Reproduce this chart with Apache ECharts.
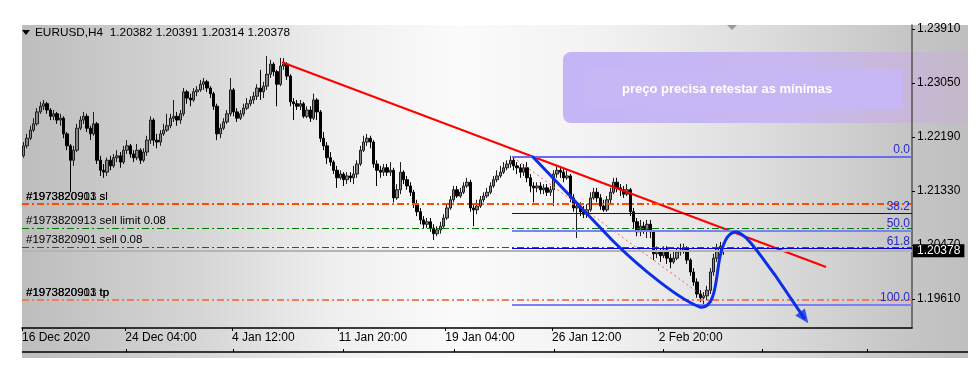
<!DOCTYPE html>
<html><head><meta charset="utf-8">
<script src="https://cdn.jsdelivr.net/npm/echarts@6/dist/echarts.min.js"></script>
<style>html,body{margin:0;padding:0;background:#fff}#c{width:980px;height:373px}</style>
</head><body><div id="c"></div>
<script>
// ---------------- data ----------------
const symbolName = 'EURUSD,H4';
const lastQuote = ['1.20382', '1.20391', '1.20314', '1.20378'];
const lastPrice = 1.20378;
const totalSlots = 267;

const open = [
1.2189,1.2205,1.2217,1.2230,1.2240,1.2259,1.2268,1.2272,1.2262,1.2252,
1.2256,1.2246,1.2249,1.2224,1.2205,1.2182,1.2198,1.2233,1.2246,1.2252,
1.2233,1.2224,1.2240,1.2182,1.2166,1.2163,1.2182,1.2173,1.2186,1.2189,
1.2179,1.2198,1.2205,1.2192,1.2186,1.2198,1.2182,1.2195,1.2214,1.2246,
1.2214,1.2211,1.2224,1.2230,1.2237,1.2249,1.2252,1.2246,1.2256,1.2291,
1.2281,1.2278,1.2291,1.2294,1.2303,1.2307,1.2297,1.2288,1.2268,1.2224,
1.2233,1.2243,1.2256,1.2294,1.2259,1.2249,1.2256,1.2265,1.2272,1.2278,
1.2284,1.2297,1.2291,1.2300,1.2319,1.2335,1.2323,1.2303,1.2332,1.2335,
1.2316,1.2275,1.2272,1.2268,1.2272,1.2252,1.2262,1.2249,1.2278,1.2259,
1.2217,1.2205,1.2186,1.2179,1.2166,1.2154,1.2160,1.2151,1.2157,1.2154,
1.2160,1.2176,1.2198,1.2211,1.2217,1.2211,1.2176,1.2166,1.2163,1.2170,
1.2163,1.2166,1.2122,1.2135,1.2163,1.2151,1.2141,1.2131,1.2112,1.2100,
1.2087,1.2080,1.2084,1.2074,1.2065,1.2071,1.2077,1.2090,1.2106,1.2119,
1.2135,1.2125,1.2131,1.2141,1.2147,1.2106,1.2103,1.2109,1.2119,1.2125,
1.2131,1.2141,1.2151,1.2157,1.2163,1.2170,1.2176,1.2182,1.2173,1.2170,
1.2163,1.2170,1.2154,1.2141,1.2138,1.2141,1.2135,1.2138,1.2131,1.2135,
1.2160,1.2166,1.2163,1.2154,1.2157,1.2122,1.2106,1.2109,1.2100,1.2096,
1.2103,1.2122,1.2131,1.2122,1.2109,1.2103,1.2119,1.2131,1.2147,1.2138,
1.2135,1.2128,1.2135,1.2100,1.2084,1.2068,1.2077,1.2071,1.2080,1.2068,
1.2033,1.2036,1.2030,1.2039,1.2026,1.2020,1.2026,1.2036,1.2039,1.2042,
1.2023,1.2004,1.1988,1.1969,1.1963,1.1966,1.1975,1.2004,1.2026,1.2042,
1.20382];
const close = [
1.2205,1.2217,1.2230,1.2240,1.2259,1.2268,1.2272,1.2262,1.2252,1.2256,
1.2246,1.2249,1.2224,1.2205,1.2182,1.2198,1.2233,1.2246,1.2252,1.2233,
1.2224,1.2240,1.2182,1.2166,1.2163,1.2182,1.2173,1.2186,1.2189,1.2179,
1.2198,1.2205,1.2192,1.2186,1.2198,1.2182,1.2195,1.2214,1.2246,1.2214,
1.2211,1.2224,1.2230,1.2237,1.2249,1.2252,1.2246,1.2256,1.2291,1.2281,
1.2278,1.2291,1.2294,1.2303,1.2307,1.2297,1.2288,1.2268,1.2224,1.2233,
1.2243,1.2256,1.2294,1.2259,1.2249,1.2256,1.2265,1.2272,1.2278,1.2284,
1.2297,1.2291,1.2300,1.2319,1.2335,1.2323,1.2303,1.2332,1.2335,1.2316,
1.2275,1.2272,1.2268,1.2272,1.2252,1.2262,1.2249,1.2278,1.2259,1.2217,
1.2205,1.2186,1.2179,1.2166,1.2154,1.2160,1.2151,1.2157,1.2154,1.2160,
1.2176,1.2198,1.2211,1.2217,1.2211,1.2176,1.2166,1.2163,1.2170,1.2163,
1.2166,1.2122,1.2135,1.2163,1.2151,1.2141,1.2131,1.2112,1.2100,1.2087,
1.2080,1.2084,1.2074,1.2065,1.2071,1.2077,1.2090,1.2106,1.2119,1.2135,
1.2125,1.2131,1.2141,1.2147,1.2106,1.2103,1.2109,1.2119,1.2125,1.2131,
1.2141,1.2151,1.2157,1.2163,1.2170,1.2176,1.2182,1.2173,1.2170,1.2163,
1.2170,1.2154,1.2141,1.2138,1.2141,1.2135,1.2138,1.2131,1.2135,1.2160,
1.2166,1.2163,1.2154,1.2157,1.2122,1.2106,1.2109,1.2100,1.2096,1.2103,
1.2122,1.2131,1.2122,1.2109,1.2103,1.2119,1.2131,1.2147,1.2138,1.2135,
1.2128,1.2135,1.2100,1.2084,1.2068,1.2077,1.2071,1.2080,1.2068,1.2033,
1.2036,1.2030,1.2039,1.2026,1.2020,1.2026,1.2036,1.2039,1.2042,1.2023,
1.2004,1.1988,1.1969,1.1963,1.1966,1.1975,1.2004,1.2026,1.2042,1.2045,
1.20378];
const low = [
1.2186,1.2201,1.2214,1.2227,1.2237,1.2256,1.2262,1.2256,1.2246,1.2246,
1.2240,1.2237,1.2217,1.2198,1.2131,1.2173,1.2195,1.2230,1.2240,1.2227,
1.2214,1.2221,1.2176,1.2157,1.2154,1.2157,1.2166,1.2170,1.2179,1.2170,
1.2176,1.2192,1.2186,1.2179,1.2182,1.2176,1.2179,1.2189,1.2208,1.2205,
1.2201,1.2205,1.2221,1.2227,1.2233,1.2243,1.2237,1.2240,1.2252,1.2272,
1.2268,1.2275,1.2284,1.2291,1.2294,1.2291,1.2281,1.2262,1.2214,1.2217,
1.2230,1.2240,1.2252,1.2252,1.2243,1.2246,1.2252,1.2262,1.2268,1.2272,
1.2278,1.2278,1.2281,1.2294,1.2313,1.2316,1.2268,1.2300,1.2326,1.2310,
1.2268,1.2246,1.2262,1.2262,1.2249,1.2249,1.2243,1.2246,1.2246,1.2211,
1.2198,1.2176,1.2173,1.2160,1.2138,1.2151,1.2141,1.2144,1.2147,1.2144,
1.2154,1.2173,1.2195,1.2205,1.2201,1.2170,1.2141,1.2154,1.2157,1.2157,
1.2157,1.2115,1.2119,1.2128,1.2144,1.2135,1.2125,1.2106,1.2093,1.2080,
1.2074,1.2074,1.2068,1.2055,1.2061,1.2065,1.2074,1.2087,1.2103,1.2115,
1.2122,1.2122,1.2128,1.2138,1.2100,1.2077,1.2096,1.2106,1.2115,1.2122,
1.2128,1.2138,1.2147,1.2154,1.2160,1.2166,1.2170,1.2166,1.2160,1.2154,
1.2157,1.2147,1.2131,1.2115,1.2131,1.2128,1.2128,1.2125,1.2125,1.2109,
1.2154,1.2154,1.2147,1.2151,1.2115,1.2100,1.2058,1.2093,1.2090,1.2090,
1.2100,1.2119,1.2115,1.2103,1.2100,1.2100,1.2112,1.2128,1.2131,1.2125,
1.2122,1.2125,1.2093,1.2074,1.2061,1.2061,1.2065,1.2058,1.2058,1.2023,
1.2026,1.2020,1.2026,1.2017,1.2010,1.2017,1.2023,1.2030,1.2033,1.2017,
1.1998,1.1982,1.1963,1.1956,1.1953,1.1959,1.1969,1.1998,1.2020,1.2036,
1.20314];
const high = [
1.2211,1.2224,1.2237,1.2249,1.2265,1.2275,1.2278,1.2275,1.2265,1.2262,
1.2259,1.2256,1.2252,1.2227,1.2208,1.2205,1.2240,1.2252,1.2259,1.2256,
1.2237,1.2259,1.2243,1.2189,1.2176,1.2186,1.2189,1.2192,1.2198,1.2195,
1.2205,1.2214,1.2208,1.2198,1.2208,1.2201,1.2201,1.2221,1.2252,1.2249,
1.2224,1.2230,1.2240,1.2256,1.2256,1.2278,1.2259,1.2262,1.2297,1.2294,
1.2288,1.2297,1.2300,1.2310,1.2313,1.2310,1.2300,1.2291,1.2272,1.2240,
1.2249,1.2262,1.2313,1.2297,1.2265,1.2262,1.2272,1.2281,1.2284,1.2291,
1.2303,1.2326,1.2307,1.2348,1.2342,1.2338,1.2326,1.2345,1.2345,1.2338,
1.2319,1.2281,1.2278,1.2278,1.2275,1.2268,1.2268,1.2288,1.2281,1.2262,
1.2227,1.2211,1.2195,1.2182,1.2173,1.2166,1.2163,1.2163,1.2163,1.2173,
1.2182,1.2205,1.2221,1.2224,1.2221,1.2214,1.2182,1.2173,1.2176,1.2176,
1.2179,1.2170,1.2144,1.2179,1.2166,1.2157,1.2147,1.2135,1.2119,1.2106,
1.2093,1.2090,1.2090,1.2080,1.2077,1.2084,1.2096,1.2112,1.2125,1.2141,
1.2141,1.2138,1.2147,1.2154,1.2151,1.2112,1.2119,1.2125,1.2131,1.2138,
1.2147,1.2157,1.2166,1.2173,1.2179,1.2182,1.2189,1.2186,1.2179,1.2176,
1.2176,1.2179,1.2160,1.2147,1.2147,1.2147,1.2144,1.2144,1.2141,1.2166,
1.2173,1.2173,1.2170,1.2166,1.2160,1.2128,1.2115,1.2115,1.2109,1.2112,
1.2131,1.2138,1.2138,1.2128,1.2119,1.2125,1.2138,1.2154,1.2154,1.2144,
1.2141,1.2144,1.2138,1.2106,1.2090,1.2087,1.2084,1.2087,1.2087,1.2071,
1.2045,1.2042,1.2045,1.2045,1.2033,1.2036,1.2042,1.2049,1.2049,1.2045,
1.2026,1.2010,1.1994,1.1975,1.1972,1.1982,1.2010,1.2033,1.2049,1.2052,
1.20391];

const priceTicks = [1.19610, 1.20470, 1.21330, 1.22190, 1.23050, 1.23910];
const timeLabels = ['16 Dec 2020', '24 Dec 04:00', '4 Jan 12:00', '11 Jan 20:00', '19 Jan 04:00', '26 Jan 12:00', '2 Feb 20:00'];
const timeLabelSlots = [0, 31, 63, 95, 127, 159, 191];
const lowerPaneTicks = [31.2, 63.3, 96.3, 129.6, 159.6, 192.3, 222, 253.5];

const orderNames = ['#1973820901 sl', '#1973820913 sl', '#1973820913 sell limit 0.08', '#1973820901 sell 0.08', '#1973820901 tp', '#1973820913 tp'];
const orderPrices = [1.21123, 1.21123, 1.20741, 1.20438, 1.19594, 1.19594];
const orderKinds = ['sl', 'sl', 'entry', 'entry', 'tp', 'tp'];

const fibLevelNames = ['0.0', '38.2', '50.0', '61.8', '100.0'];
const fibLevelPrices = [1.21870, 1.20970, 1.20693, 1.20415, 1.19515];
const fibStartSlot = 147;
const fibAnchor = [[147.3, 1.2187], [207.9, 1.19515]];

const trendLine = [[78, 1.2338], [241.2, 1.2012]];
// hand-drawn arrow path: start, line-to, then cubic segments (c1, c2, end), final line-to
const arrowStart = [153.3, 1.21872];
const arrowLineTo = [177.0, 1.20550];
const arrowCurves = [
  [[185.4, 1.20104], [197.4, 1.19594], [203.4, 1.19483]],
  [[207.9, 1.19435], [208.2, 1.19913], [209.1, 1.20199]],
  [[210.0, 1.20470], [211.5, 1.20661], [213.9, 1.20677]],
  [[216.9, 1.20693], [221.4, 1.20311], [225.9, 1.19992]]];
const arrowEnd = [234.6, 1.19308];
const arrowHead = [234.66, 1.19312];
const noteText = 'preço precisa retestar as mínimas';

// ---------------- chart ----------------
const FONT = '"Liberation Sans", Arial, sans-serif';
const slots = Array.from({length: totalSlots}, (_, i) => String(i));
const candles = open.map((o, i) => [o, close[i], low[i], high[i]]);

const dashDot = [7, 3, 2, 3];
const orderStyle = {
  sl: {color: '#ff4a00', width: 2, type: dashDot},
  entry: {color: '#007a00', width: 1, type: dashDot},
  tp: {color: '#f07a55', width: 1.5, type: dashDot}
};
const orderMarks = orderNames.map((n, i) => ({
  yAxis: orderPrices[i],
  lineStyle: orderStyle[orderKinds[i]],
  label: {show: true, position: 'insideStartTop', formatter: n, color: '#000', fontSize: 11.5, fontFamily: FONT, distance: [4, 1]}
}));
const bidMark = {
  yAxis: lastPrice,
  lineStyle: {color: '#b4b4b4', width: 2, type: 'solid'},
  label: {show: true, position: 'end', formatter: lastQuote[3], color: '#fff', backgroundColor: '#000',
          padding: [1, 4, 0, 4], fontSize: 12, fontFamily: FONT, distance: 1}
};

const fibStyles = [
  {color: '#6b6bf2', width: 2}, {color: '#0000dd', width: 1}, {color: '#7f7ff5', width: 2},
  {color: '#0000dd', width: 1}, {color: '#7f7ff5', width: 2}];
const fibMarks = fibLevelPrices.map((p, i) => [
  {coord: [fibStartSlot, p], lineStyle: Object.assign({type: 'solid'}, fibStyles[i]),
   label: {show: true, position: 'insideEndTop', formatter: fibLevelNames[i], color: '#2828c8', fontSize: 12, fontFamily: FONT, distance: [2, 1]}},
  {coord: [totalSlots, p]}
]);

function renderArrow(params, api) {
  const s = api.coord(arrowStart), l = api.coord(arrowLineTo), e = api.coord(arrowEnd);
  let d = 'M' + s[0] + ' ' + s[1] + ' L' + l[0] + ' ' + l[1];
  arrowCurves.forEach(seg => {
    const pts = seg.map(q => api.coord(q));
    d += ' C' + pts.map(p => p[0] + ' ' + p[1]).join(' ');
  });
  d += ' L' + e[0] + ' ' + e[1];
  return {type: 'path', shape: {pathData: d}, style: {fill: 'none', stroke: '#0c2fe6', lineWidth: 3, lineJoin: 'round', lineCap: 'round'}};
}

const chart = echarts.init(document.getElementById('c'), null, {renderer: 'canvas'});
chart.setOption({
  animation: false,
  backgroundColor: '#ffffff',
  textStyle: {fontFamily: FONT},
  grid: {left: 22, right: 68, top: 25, bottom: 45, outerBoundsMode: 'none'},
  xAxis: [
    {type: 'category', data: slots, boundaryGap: true,
     axisLine: {show: true, onZero: false, lineStyle: {color: '#000', width: 1.5}},
     axisTick: {show: false}, axisLabel: {show: false}, splitLine: {show: false}},
    {type: 'value', min: 0, max: totalSlots, position: 'bottom',
     axisLine: {show: false, onZero: false}, splitLine: {show: false},
     axisTick: {show: true, customValues: timeLabelSlots, length: 3, lineStyle: {color: '#000'}},
     axisLabel: {show: true, customValues: timeLabelSlots, align: 'left', margin: 4, color: '#000', fontSize: 12, fontFamily: FONT,
       formatter: v => timeLabels[timeLabelSlots.indexOf(v)] || ''}},
    {type: 'value', min: 0, max: totalSlots, position: 'bottom', offset: 24,
     axisLine: {show: false, onZero: false}, splitLine: {show: false}, axisLabel: {show: false},
     axisTick: {show: true, inside: true, customValues: lowerPaneTicks, length: 3, lineStyle: {color: '#000'}}}
  ],
  yAxis: [{
    type: 'value', position: 'right', min: 1.19148, max: 1.23974,
    splitLine: {show: false},
    axisLine: {show: true, onZero: false, lineStyle: {color: '#555', width: 1.5}},
    axisTick: {show: true, customValues: priceTicks, length: 3, lineStyle: {color: '#000'}},
    axisLabel: {show: true, customValues: priceTicks, margin: 5, color: '#000', fontSize: 12, fontFamily: FONT,
      formatter: v => Number(v).toFixed(5)}
  }],
  series: [
    {type: 'candlestick', name: symbolName, xAxisIndex: 0, yAxisIndex: 0, data: candles, barWidth: 2.8, z: 2,
     itemStyle: {color: '#858585', color0: '#000', borderColor: '#1e1e1e', borderColor0: '#000', borderWidth: 1},
     markLine: {silent: true, precision: 5, symbol: ['none', 'none'], animation: false, data: [bidMark].concat(orderMarks)}},
    {type: 'line', name: 'fib', xAxisIndex: 1, yAxisIndex: 0, data: fibAnchor, symbol: 'none', z: 3,
     lineStyle: {color: '#ff5a5a', width: 1, type: [2, 3]},
     markLine: {silent: true, precision: 5, symbol: ['none', 'none'], animation: false, data: fibMarks}},
    {type: 'line', name: 'trend', xAxisIndex: 1, yAxisIndex: 0, data: trendLine, symbol: 'none', z: 4,
     lineStyle: {color: '#ff0000', width: 2}},
    {type: 'custom', name: 'path', xAxisIndex: 1, yAxisIndex: 0, data: [[arrowStart[0], arrowStart[1]]], z: 5,
     renderItem: renderArrow},
    {type: 'scatter', name: 'head', xAxisIndex: 1, yAxisIndex: 0, data: [arrowHead], z: 6,
     symbol: 'triangle', symbolSize: [12, 14], symbolRotate: -144, itemStyle: {color: '#0c2fe6'}}
  ],
  graphic: [
    {type: 'rect', z: -100, silent: true, shape: {x: 22, y: 25, width: 946, height: 333},
     style: {fill: new echarts.graphic.LinearGradient(0, 0, 1, 0, [
       {offset: 0, color: '#bdbdbd'}, {offset: 0.19, color: '#d6d6d6'}, {offset: 0.33, color: '#efefef'},
       {offset: 0.46, color: '#fbfbfb'}, {offset: 0.61, color: '#f2f2f2'}, {offset: 0.78, color: '#dddddd'},
       {offset: 0.93, color: '#c6c6c6'}, {offset: 1, color: '#bfbfbf'}])}},
    {type: 'rect', z: -60, silent: true, shape: {x: 563, y: 52, width: 405, height: 71, r: [8, 0, 0, 8]},
     style: {fill: new echarts.graphic.LinearGradient(0, 0, 1, 0, [
       {offset: 0, color: '#c3b5f7'}, {offset: 0.55, color: '#c8b8f2'}, {offset: 0.8, color: '#c8b8dc'}, {offset: 1, color: '#c4b8c8'}])}},
    {type: 'rect', z: -59, silent: true, shape: {x: 585, y: 70, width: 318, height: 40}, style: {fill: '#c7b7f5'}},
    {type: 'text', z: -58, silent: true, style: {x: 622, y: 89, text: noteText, fill: '#ffffff',
      fontSize: 13, fontWeight: 'bold', fontFamily: FONT, verticalAlign: 'middle'}},
    {type: 'line', z: 5, silent: true, shape: {x1: 22, y1: 352, x2: 968, y2: 352}, style: {stroke: '#000', lineWidth: 1.5}},
    {type: 'polygon', z: 5, silent: true, shape: {points: [[22, 30], [30, 30], [26, 35]]}, style: {fill: '#000'}},
    {type: 'text', z: 5, silent: true, style: {x: 35, y: 33, text: symbolName + '  ' + lastQuote.join(' '),
      fill: '#000', fontSize: 11.8, fontFamily: FONT, verticalAlign: 'middle'}},
    {type: 'polygon', z: 5, silent: true, shape: {points: [[727, 25], [737, 25], [732, 30]]}, style: {fill: '#9a9a9a'}}
  ]
});
</script></body></html>
